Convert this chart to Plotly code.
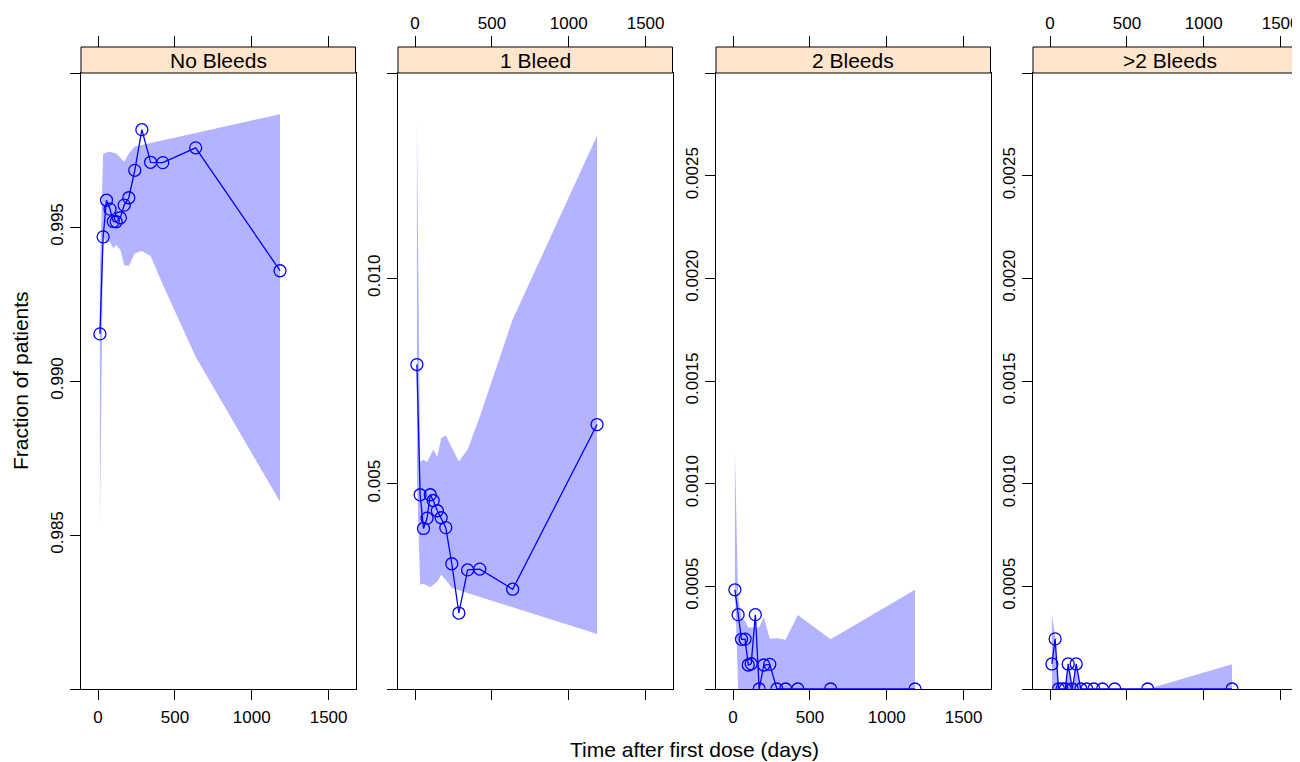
import plotly.graph_objects as go

# ---------------- data ----------------
panel_titles = ["No Bleeds", "1 Bleed", "2 Bleeds", ">2 Bleeds"]
days = [12, 33, 55, 78, 99, 118, 145, 170, 200, 239, 285, 342, 421, 635, 1184]

no_bleeds = [0.99153, 0.99468, 0.99587, 0.99558, 0.99518, 0.99517, 0.99530, 0.99571,
             0.99595, 0.99684, 0.99816, 0.99710, 0.99709, 0.99757, 0.99358]
no_bleeds_lo = [0.98530, 0.99469, 0.99447, 0.99452, 0.99431, 0.99442, 0.99425, 0.99377,
                0.99373, 0.99415, 0.99422, 0.99406, 0.99313, 0.99079, 0.98608]
no_bleeds_hi = [0.99350, 0.99738, 0.99742, 0.99744, 0.99741, 0.99739, 0.99725, 0.99712,
                0.99739, 0.99761, 0.99766, 0.99772, 0.99781, 0.99805, 0.99866]

one_bleed = [0.00790, 0.00473, 0.00391, 0.00416, 0.00473, 0.00459, 0.00434, 0.00417,
             0.00393, 0.00305, 0.00185, 0.00290, 0.00292, 0.00243, 0.00644]
one_bleed_lo = [0.00520, 0.00254, 0.00256, 0.00252, 0.00248, 0.00255, 0.00262, 0.00278,
                0.00266, 0.00246, 0.00240, 0.00234, 0.00224, 0.00199, 0.00134]
one_bleed_hi = [0.01386, 0.00554, 0.00558, 0.00552, 0.00568, 0.00583, 0.00565, 0.00611,
                0.00617, 0.00587, 0.00554, 0.00583, 0.00663, 0.00900, 0.01347]

two_bleeds = [0.000483, 0.000362, 0.000242, 0.000243, 0.000117, 0.000123, 0.000362, 0.0,
              0.000117, 0.000120, 0.0, 0.0, 0.0, 0.0, 0.0]
two_bleeds_lo = [0.00050, 0.0, 0.0, 0.0, 0.0, 0.0, 0.0, 0.0,
                 0.0, 0.0, 0.0, 0.0, 0.0, 0.0, 0.0]
two_bleeds_hi = [0.00116, 0.00045, 0.00035, 0.00033, 0.00030, 0.00030, 0.00030, 0.00030,
                 0.00035, 0.000245, 0.000247, 0.00024, 0.00036, 0.000242, 0.000483]

more_bleeds = [0.000122, 0.000244, 0.0, 0.0, 0.0, 0.000122, 0.0, 0.000122,
               0.0, 0.0, 0.0, 0.0, 0.0, 0.0, 0.0]
more_bleeds_lo = [0.0] * 15
more_bleeds_hi = [0.00036, 0.00026, 0.0, 0.0, 0.0, 0.00012, 0.0, 0.00012,
                  0.0, 0.0, 0.0, 0.0, 0.0, 0.0, 0.00012]

x_ticks = [0, 500, 1000, 1500]
y_ticks = [
    [0.980, 0.985, 0.990, 0.995, 1.000],
    [0.0, 0.005, 0.010, 0.015],
    [0.0, 0.0005, 0.0010, 0.0015, 0.0020, 0.0025, 0.0030],
    [0.0, 0.0005, 0.0010, 0.0015, 0.0020, 0.0025, 0.0030],
]
y_tick_text = [
    ["", "0.985", "0.990", "0.995", ""],
    ["", "0.005", "0.010", ""],
    ["", "0.0005", "0.0010", "0.0015", "0.0020", "0.0025", ""],
    ["", "0.0005", "0.0010", "0.0015", "0.0020", "0.0025", ""],
]
y_ranges = [[0.980, 1.000], [0.0, 0.015], [0.0, 0.003], [0.0, 0.003]]

series = [no_bleeds, one_bleed, two_bleeds, more_bleeds]
series_lo = [no_bleeds_lo, one_bleed_lo, two_bleeds_lo, more_bleeds_lo]
series_hi = [no_bleeds_hi, one_bleed_hi, two_bleeds_hi, more_bleeds_hi]

# ---------------- layout geometry (window pixels) ----------------
WIN_W, WIN_H = 1300, 762
OFF = 8                      # default page margin around the plot div
W, H = WIN_W - OFF, WIN_H - OFF
PANEL_L = [81, 398, 716, 1033]
PANEL_W = 274.5
PLOT_TOP, PLOT_BOT = 73, 689
STRIP_TOP = 47
PX_PER_DAY = PANEL_W / 1786.0
X_MIN = -111

FONT = "Liberation Sans, Arial, Helvetica, sans-serif"
BLUE = "#0000FF"
BAND = "#B3B3FF"
STRIP = "#FFE5CC"


def px(xp):
    return (xp - OFF) / W


def py(yp):
    return 1 - (yp - OFF) / H


fig = go.Figure()
layout = dict(
    width=W, height=H, autosize=False,
    margin=dict(l=0, r=0, t=0, b=0, pad=0),
    paper_bgcolor="white", plot_bgcolor="white",
    showlegend=False,
    font=dict(family=FONT, color="black", size=17),
)

shapes = []
annotations = []

for i in range(4):
    n = i + 1
    xs = "" if n == 1 else str(n)
    left = PANEL_L[i]
    right = min(left + PANEL_W, WIN_W)
    x_max = X_MIN + (right - left) / PX_PER_DAY

    # band
    fig.add_trace(go.Scatter(
        x=days + days[::-1], y=series_hi[i] + series_lo[i][::-1],
        xaxis="x" + xs, yaxis="y" + xs,
        mode="lines", fill="toself", fillcolor=BAND,
        line=dict(width=0, color="rgba(0,0,0,0)"), hoverinfo="skip",
    ))
    # points + line
    fig.add_trace(go.Scatter(
        x=days, y=series[i], xaxis="x" + xs, yaxis="y" + xs,
        mode="lines+markers",
        line=dict(color=BLUE, width=1.3),
        marker=dict(symbol="circle-open", size=12, color=BLUE, line=dict(width=1.3, color=BLUE)),
    ))
    # dummy for top axis
    fig.add_trace(go.Scatter(
        x=[None], y=[None], xaxis="x" + str(n + 4), yaxis="y" + xs,
        mode="markers", hoverinfo="skip",
    ))

    label_bottom = (n % 2 == 1)
    layout["xaxis" + xs] = dict(
        domain=[px(left), min(px(right), 1.0)], anchor="y" + xs, range=[X_MIN, x_max],
        tickvals=x_ticks, showticklabels=label_bottom,
        ticks="outside", ticklen=10, tickwidth=1, tickcolor="black",
        ticklabelstandoff=3,
        showline=True, mirror=True, linecolor="black", linewidth=1,
        showgrid=False, zeroline=False, tickfont=dict(size=17, family=FONT),
    )
    layout["xaxis" + str(n + 4)] = dict(
        overlaying="x" + xs, anchor="free", position=py(STRIP_TOP), side="top",
        range=[X_MIN, x_max], tickvals=x_ticks, showticklabels=not label_bottom,
        ticks="outside", ticklen=11, tickwidth=1, tickcolor="black",
        showline=False, showgrid=False, zeroline=False,
        tickfont=dict(size=17, family=FONT),
    )
    layout["yaxis" + xs] = dict(
        domain=[py(PLOT_BOT), py(PLOT_TOP)], anchor="x" + xs, range=y_ranges[i],
        tickvals=y_ticks[i], ticktext=y_tick_text[i], tickangle=-90,
        ticks="outside", ticklen=10, tickwidth=1, tickcolor="black",
        showline=True, mirror=(n != 4), linecolor="black", linewidth=1,
        showgrid=False, zeroline=False, tickfont=dict(size=17, family=FONT),
    )

    # strip
    shapes.append(dict(
        type="rect", xref="paper", yref="paper",
        x0=px(left), x1=px(left + PANEL_W), y0=py(PLOT_TOP), y1=py(STRIP_TOP),
        fillcolor=STRIP, line=dict(color="black", width=1), layer="above",
    ))
    annotations.append(dict(
        text=panel_titles[i], xref="paper", yref="paper",
        x=px(left + PANEL_W / 2), y=py((PLOT_TOP + STRIP_TOP) / 2),
        xanchor="center", yanchor="middle", showarrow=False,
        font=dict(size=21, family=FONT, color="black"),
    ))

annotations.append(dict(
    text="Time after first dose (days)", xref="paper", yref="paper",
    x=px((PANEL_L[0] + PANEL_L[3] + PANEL_W) / 2), y=py(749),
    xanchor="center", yanchor="middle", showarrow=False,
    font=dict(size=21, family=FONT, color="black"),
))
annotations.append(dict(
    text="Fraction of patients", xref="paper", yref="paper",
    x=px(20), y=py((PLOT_TOP + PLOT_BOT) / 2), textangle=-90,
    xanchor="center", yanchor="middle", showarrow=False,
    font=dict(size=21, family=FONT, color="black"),
))

layout["shapes"] = shapes
layout["annotations"] = annotations
fig.update_layout(**layout)
fig.write_html("out.html")
